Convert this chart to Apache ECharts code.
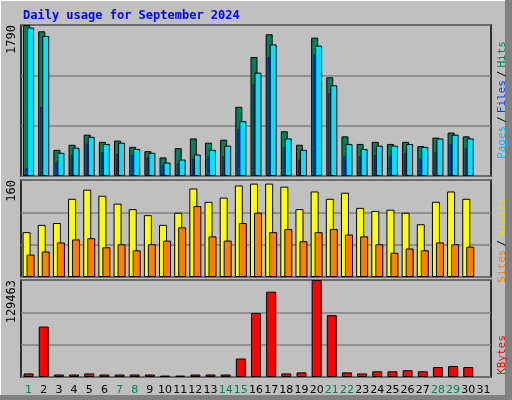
<!DOCTYPE html>
<html><head><meta charset="utf-8">
<script src="https://cdn.jsdelivr.net/npm/echarts@6/dist/echarts.min.js"></script>
<style>html,body{margin:0;padding:0;background:#c0c0c0}#c{width:512px;height:400px}</style>
</head><body><div id="c"></div>
<script>
var days = [];
for (var d = 1; d <= 31; d++) days.push(String(d));
var weekend = ['1','7','8','14','15','21','22','28','29'];
var hits  = [1790,1715,310,370,490,405,420,345,295,220,330,445,395,430,820,1410,1680,530,370,1640,1170,470,380,405,380,405,355,455,515,470,0];
var files = [90,820,160,250,380,280,260,250,220,130,150,205,235,235,555,1090,1410,345,195,1445,980,235,235,245,235,275,205,280,380,330,0];
var pages = [1760,1660,275,335,465,380,395,320,275,160,195,255,310,360,650,1225,1560,445,310,1545,1075,380,320,360,360,380,345,445,490,445,0];
var visits = [74,86,89,129,144,134,121,112,102,86,106,146,124,131,151,154,154,149,112,141,129,139,114,109,111,106,87,124,141,129,0];
var sites  = [37,42,57,62,64,49,54,44,54,60,82,117,67,60,89,106,74,79,59,74,79,70,67,54,40,47,44,57,54,50,0];
var kbytes = [4740,67340,3320,3320,4740,3320,3320,3320,3320,1900,1900,3320,3320,3320,24660,85360,113810,4740,6160,129463,82510,6160,4740,7590,7590,9010,7590,13280,14700,13280,0];

var font = 'DejaVu Sans Mono';
var chart = echarts.init(document.getElementById('c'));

function nz(a) { return a.map(function (v) { return v === 0 ? '-' : v; }); }
function yAx(grid, max) {
  return {
    gridIndex: grid, type: 'value', min: 0, max: max, interval: max / 3,
    axisLine: { show: false }, axisTick: { show: false },
    splitLine: { lineStyle: { color: '#808080', width: 1.5 } },
    axisLabel: {
      rotate: 90, margin: 3, fontFamily: font, fontSize: 12, color: '#000',
      formatter: function (v) { return Math.abs(v - max) < 0.5 ? String(max) : ''; },
      verticalAlign: 'bottom', align: 'right'
    }
  };
}
function xAx(grid, showLabels) {
  return {
    gridIndex: grid, type: 'category', data: days, boundaryGap: true,
    axisLine: { show: false }, axisTick: { show: false },
    axisLabel: {
      show: showLabels, interval: 0, margin: 8, fontFamily: 'DejaVu Sans', fontSize: 11,
      color: function (v) { return weekend.indexOf(v) >= 0 ? '#00805c' : '#000'; }
    }
  };
}
var border = { borderColor: '#000', borderWidth: 1 };
function bar(name, x, y, data, color, w, gap) {
  var s = { name: name, type: 'bar', xAxisIndex: x, yAxisIndex: y, data: nz(data), barWidth: w,
    itemStyle: Object.assign({ color: color }, border), silent: true, z: 2 };
  if (gap !== undefined) s.barGap = gap;
  return s;
}

var option = {
  backgroundColor: '#c0c0c0',
  animation: false,
  grid: [
    { left: 21, right: 21, top: 25, height: 151, show: true, backgroundColor: '#c0c0c0', borderColor: '#000', borderWidth: 1.5 },
    { left: 21, right: 21, top: 180, height: 97, show: true, backgroundColor: '#c0c0c0', borderColor: '#000', borderWidth: 1.5 },
    { left: 21, right: 21, top: 280, height: 97, show: true, backgroundColor: '#c0c0c0', borderColor: '#000', borderWidth: 1.5 }
  ],
  xAxis: [xAx(0, false), xAx(0, false), xAx(1, false), xAx(2, true)],
  yAxis: [yAx(0, 1790), yAx(1, 160), yAx(2, 129463)],
  title: {
    text: 'Daily usage for September 2024', left: 18, top: 5,
    textStyle: { fontFamily: font, fontSize: 12, fontWeight: 'bold', color: '#0000ff' }
  },
  graphic: [
    { type: 'rect', shape: { x: 0, y: 0, width: 512, height: 400 }, silent: true, z: -10,
      style: { fill: 'none', stroke: '#ffffff', lineWidth: 2 } },
    { type: 'rect', shape: { x: 505, y: 0, width: 7, height: 400 }, style: { fill: '#808080' }, z: -9 },
    { type: 'rect', shape: { x: 0, y: 395, width: 512, height: 5 }, style: { fill: '#808080' }, z: -9 },
    { type: 'text', x: 502, y: 100, rotation: Math.PI / 2,
      style: { text: '{p|Pages}{s|/}{f|Files}{s|/}{h|Hits}', align: 'center', verticalAlign: 'middle',
        rich: { p: { fill: '#00c0ff', fontFamily: font, fontSize: 11 }, f: { fill: '#0040ff', fontFamily: font, fontSize: 11 },
          h: { fill: '#00805c', fontFamily: font, fontSize: 11 }, s: { fill: '#000', fontFamily: font, fontSize: 11, padding: [0, 3] } } } },
    { type: 'text', x: 502, y: 240, rotation: Math.PI / 2,
      style: { text: '{a|Sites}{s|/}{b|Visits}', align: 'center', verticalAlign: 'middle',
        rich: { a: { fill: '#ff8000', fontFamily: font, fontSize: 11 }, b: { fill: '#e0e000', fontFamily: font, fontSize: 11 },
          s: { fill: '#000', fontFamily: font, fontSize: 11, padding: [0, 3] } } } },
    { type: 'text', x: 502, y: 355, rotation: Math.PI / 2,
      style: { text: 'KBytes', fill: '#ff0000', fontFamily: font, fontSize: 11, align: 'center', verticalAlign: 'middle' } }
  ],
  series: [
    bar('Hits', 0, 0, hits, '#00805c', 7, '-43%'),
    bar('Pages', 0, 0, pages, '#00e0ff', 7, '-43%'),
    Object.assign(bar('Files', 1, 0, files, '#0040ff', 2, 0), { z: 3, itemStyle: { color: '#0040ff', borderColor: '#000', borderWidth: 0.5 } }),
    { type: 'bar', xAxisIndex: 1, yAxisIndex: 0, data: days.map(function () { return '-'; }), barWidth: 4.6, barGap: 0, silent: true },
    bar('Visits', 2, 1, visits, '#ffff00', 8, '-50%'),
    bar('Sites', 2, 1, sites, '#ff8000', 8, '-50%'),
    bar('KBytes', 3, 2, kbytes, '#ff0000', 10)
  ]
};
chart.setOption(option);
window.addEventListener('resize', function () { chart.resize(); });
</script>
</body></html>
